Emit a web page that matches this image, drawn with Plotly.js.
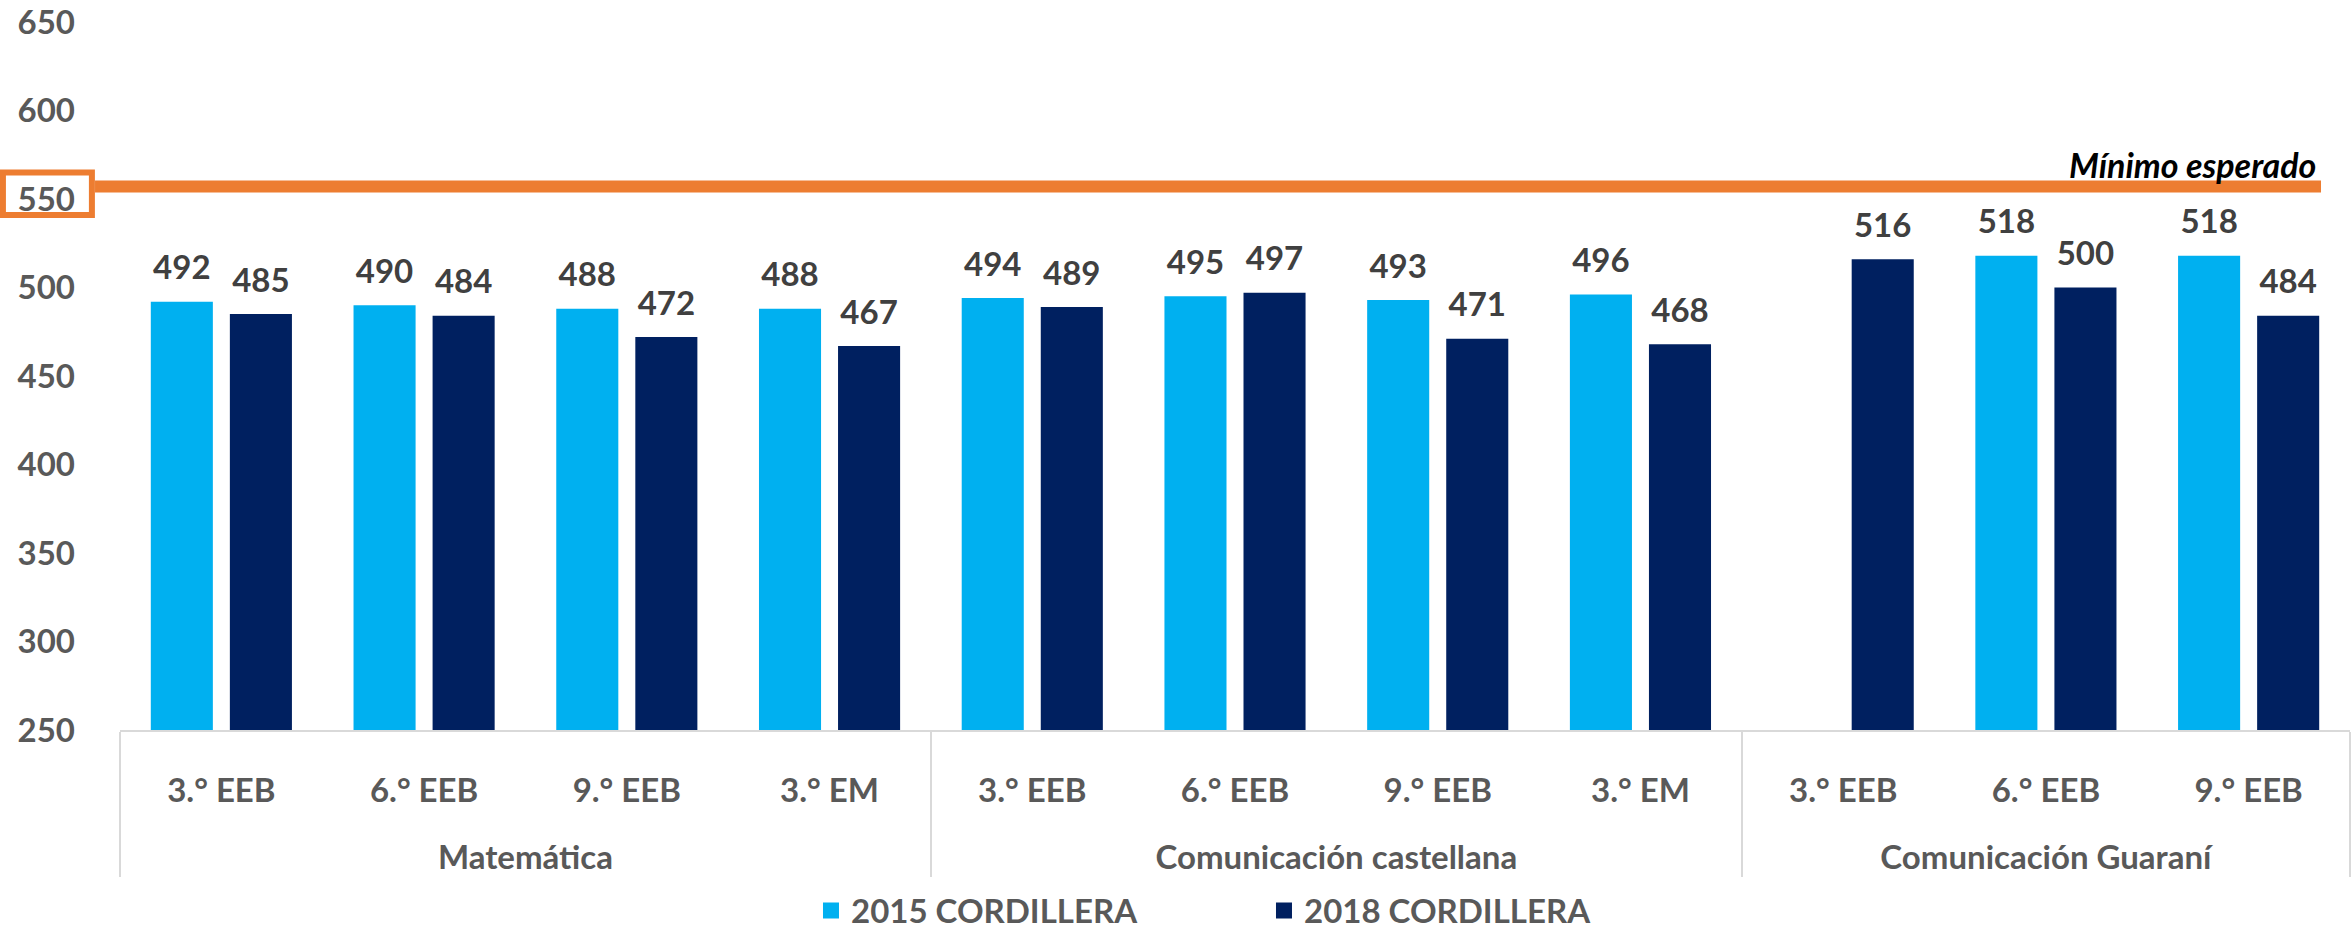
<!DOCTYPE html>
<html>
<head>
<meta charset="utf-8">
<script src="https://cdn.plot.ly/plotly-3.0.1.min.js"></script>
<style>
  html, body { margin: 0; padding: 0; background: #ffffff; }
  #chart { width: 2351px; height: 932px; }
</style>
</head>
<body>
<div id="chart"></div>
<script>
// ---- Data ----
const areas = ['Matemática','Matemática','Matemática','Matemática',
  'Comunicación castellana','Comunicación castellana','Comunicación castellana','Comunicación castellana',
  'Comunicación Guaraní','Comunicación Guaraní','Comunicación Guaraní'];
const grados = ['3.° EEB','6.° EEB','9.° EEB','3.° EM',
  '3.° EEB','6.° EEB','9.° EEB','3.° EM',
  '3.° EEB','6.° EEB','9.° EEB'];
const serie2015 = [492, 490, 488, 488, 494, 495, 493, 496, null, 518, 518];
const serie2018 = [485, 484, 472, 467, 489, 497, 471, 468, 516, 500, 484];
const nombres = ['2015 CORDILLERA', '2018 CORDILLERA'];
const minimoEsperado = 557;
const minimoTexto = 'Mínimo esperado';
const yTicks = [250, 300, 350, 400, 450, 500, 550, 600, 650];

// ---- Style ----
const colors = ['#00B0F0', '#002060'];
const FONT = 'Lato, "Open Sans", sans-serif';
const GAP = 0.22;

// spacer spans (taller line box) so the second label row sits lower, as in the reference
const SP = '<span style="font-size:54px">\u00A0</span>';
const gradosLabel = grados.map(g => SP + g + SP);
const xcat = [areas, gradosLabel];
const series = [serie2015, serie2018];

const traces = [];
series.forEach((s, i) => {
  traces.push({
    type: 'bar', x: xcat, y: s, name: nombres[i], offsetgroup: 'g' + i,
    marker: {color: colors[i]}, showlegend: false, hoverinfo: 'y'
  });
});
series.forEach((s, i) => {
  traces.push({
    type: 'scatter', mode: 'markers+text', x: xcat, y: s,
    offsetgroup: 'g' + i,
    text: s.map(v => v == null ? '' : '<b>' + v + '</b>'),
    textposition: 'top center',
    textfont: {family: FONT, size: 33, color: '#404040', weight: 700},
    marker: {size: 21, color: 'rgba(0,0,0,0)'},
    showlegend: false, hoverinfo: 'skip', cliponaxis: false
  });
});
series.forEach((s, i) => {
  traces.push({
    type: 'scatter', mode: 'markers', x: [null], y: [null], name: nombres[i],
    offsetgroup: 'g' + i,
    marker: {symbol: 'square', size: 16, color: colors[i]}, showlegend: true
  });
});

const layout = {
  width: 2351, height: 932,
  margin: {l: 120, r: 1, t: 22, b: 202, autoexpand: false},
  paper_bgcolor: '#ffffff', plot_bgcolor: '#ffffff',
  barmode: 'group', bargap: GAP, bargroupgap: 0.215,
  scattermode: 'group', scattergap: GAP,
  font: {family: FONT, color: '#595959'},
  xaxis: {
    type: 'multicategory',
    showline: true, linecolor: '#d9d9d9', linewidth: 2,
    showgrid: false, zeroline: false,
    ticks: 'outside', tickson: 'labels', ticklen: 30, tickcolor: 'rgba(0,0,0,0)',
    showdividers: true, dividercolor: '#d9d9d9', dividerwidth: 2,
    tickfont: {family: FONT, size: 33, color: '#595959', weight: 'bold'}
  },
  yaxis: {
    range: [250, 650], tickvals: yTicks, ticktext: yTicks.map(String),
    showgrid: false, zeroline: false, showline: false, ticks: '',
    tickfont: {family: FONT, size: 33, color: '#595959', weight: 'bold'},
    ticklabelstandoff: 44
  },
  legend: {
    orientation: 'h', x: 0.513, xanchor: 'center', y: -0.255, yanchor: 'middle',
    font: {family: FONT, size: 33, color: '#595959', weight: 'bold'},
    entrywidth: 408, itemsizing: 'trace'
  },
  shapes: [
    {type: 'line', xref: 'paper', yref: 'y', x0: -0.0112, x1: 0.987,
      y0: minimoEsperado, y1: minimoEsperado, line: {color: '#ED7D31', width: 12}},
    {type: 'rect', xref: 'paper', yref: 'y', x0: -0.0525, x1: -0.0126,
      y0: 541, y1: 565, line: {color: '#ED7D31', width: 6}, fillcolor: 'rgba(0,0,0,0)'}
  ],
  annotations: [
    {text: minimoTexto, xref: 'paper', yref: 'y', x: 0.9857, y: 569.4,
      xanchor: 'right', yanchor: 'middle', showarrow: false,
      font: {family: FONT, size: 34, color: '#000000', weight: 'bold', style: 'italic'}}
  ]
};

Plotly.newPlot('chart', traces, layout, {staticPlot: true, displayModeBar: false});
</script>
</body>
</html>
